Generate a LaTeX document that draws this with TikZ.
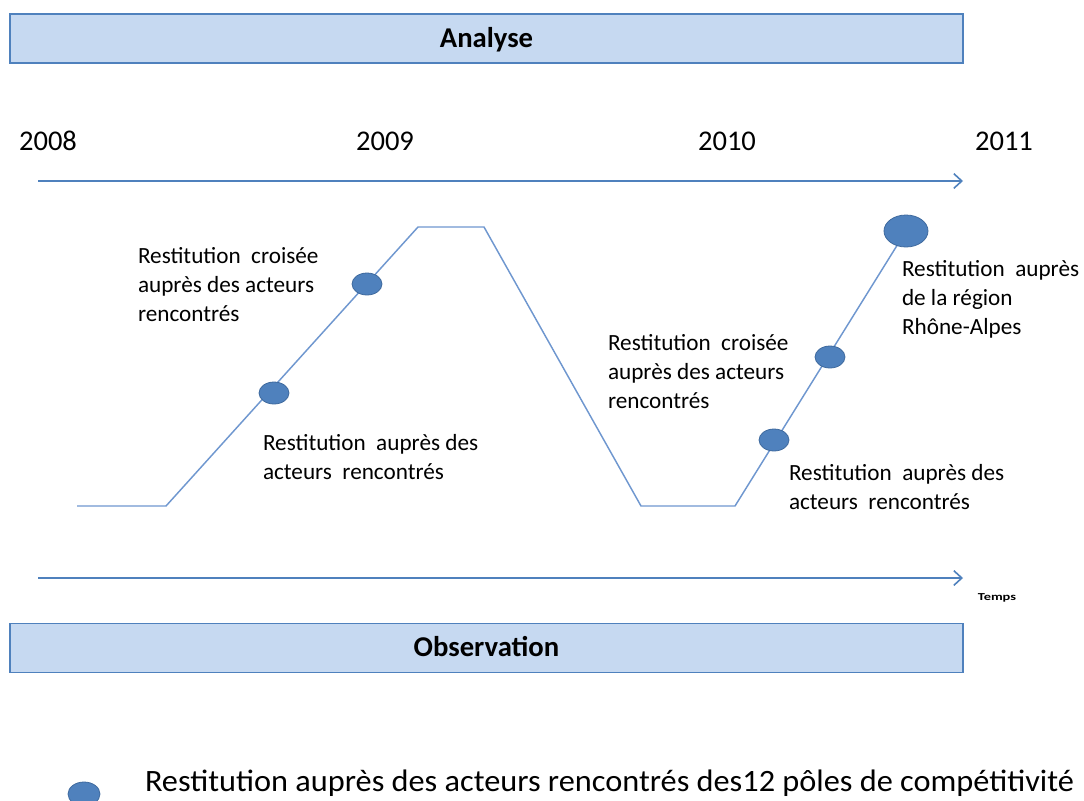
\documentclass[tikz,border=0pt]{standalone}
\usepackage{fontspec}
\setmainfont{Carlito}
\usepackage{graphicx}
\usetikzlibrary{arrows.meta, positioning, shapes.geometric}
\definecolor{boxfill}{HTML}{C6D9F1}
\definecolor{boxline}{HTML}{4F81BD}
\definecolor{axisblue}{HTML}{4F81BD}
\definecolor{curveblue}{HTML}{6F97CF}
\definecolor{dotfill}{HTML}{4F81BD}
\definecolor{dotline}{HTML}{3F6A9E}

\begin{document}
\begin{tikzpicture}[x=0.75pt,y=-0.75pt,inner sep=0pt,outer sep=0pt,
  phasebox/.style={draw=boxline,fill=boxfill,line width=1pt,minimum width=714.75pt,minimum height=36.75pt,
    text height=15pt,text depth=2pt,font=\bfseries\fontsize{21.5}{24}\selectfont},
  yearlab/.style={anchor=base,font=\fontsize{21.4}{24}\selectfont},
  restlab/.style={anchor=base west,align=left,font=\fontsize{17.4}{21.75}\selectfont},
  timeaxis/.style={draw=axisblue,line width=1.5pt,-{Straight Barb[length=6pt,width=11pt,line width=1.2pt]}},
  curve/.style={draw=curveblue,line width=1.1pt},
  dot/.style={ellipse,draw=dotline,fill=dotfill,line width=0.6pt,minimum width=22.5pt,minimum height=16.5pt},
  bigdot/.style={dot,minimum width=33pt,minimum height=24pt}]
\useasboundingbox (0,0) rectangle (1084,800);

% phases
\node[phasebox] (boxAna) at (486.5,38.5) {Analyse};
\node[phasebox] (boxObs) at (486.5,648) {Observation};

% years and time axes
\node[yearlab] (yrA) at (48,150) {2008};
\node[yearlab] (yrB) at (385,150) {2009};
\node[yearlab] (yrC) at (727,150) {2010};
\node[yearlab] (yrD) at (1004,150) {2011};
\coordinate (axTopA) at (38,181);
\coordinate (axTopB) at (963,181);
\coordinate (axBotA) at (38,578);
\coordinate (axBotB) at (963,578);
\draw[timeaxis] (axTopA) -- (axTopB);
\draw[timeaxis] (axBotA) -- (axBotB);
\node[anchor=base,font=\bfseries\fontsize{8}{9}\selectfont] (temps) at (997,600) {\scalebox{1.35}[1]{Temps}};

% trajectory
\coordinate (p1) at (77,506);
\coordinate (p2) at (166,506);
\coordinate (p3) at (418,227);
\coordinate (p4) at (484,227);
\coordinate (p5) at (641,506);
\coordinate (p6) at (735,506);
\coordinate (p7) at (906,231);
\draw[curve] (p1) -- (p2) -- (p3) -- (p4) -- (p5) -- (p6) -- (p7);

\node[dot] (dotA) at (274,393) {};
\node[dot] (dotB) at (367,284) {};
\node[dot] (dotC) at (774,440) {};
\node[dot] (dotD) at (830,357) {};
\node[bigdot] (dotE) at (906,231) {};

% restitutions (placed at the baseline of the last line)
\node[restlab] (resB) at (138,321) {Restitution \ croisée\\auprès des acteurs\\rencontrés};
\node[restlab] (resA) at (263,479) {Restitution \ auprès des\\acteurs \ rencontrés};
\node[restlab] (resD) at (608,408) {Restitution \ croisée\\auprès des acteurs\\rencontrés};
\node[restlab] (resC) at (789,509) {Restitution \ auprès des\\acteurs \ rencontrés};
\node[restlab] (resE) at (902,334) {Restitution \ auprès\\de la région\\Rhône-Alpes};

% legend
\node[dot,minimum width=24pt,minimum height=18pt] (legDot) at (84,794) {};
\node[anchor=base west,font=\fontsize{23.3}{26}\selectfont] (legText) at (145,791)
  {\scalebox{1.04}[1]{Restitution auprès des acteurs rencontrés des12 pôles de compétitivité}};
\end{tikzpicture}
\end{document}
